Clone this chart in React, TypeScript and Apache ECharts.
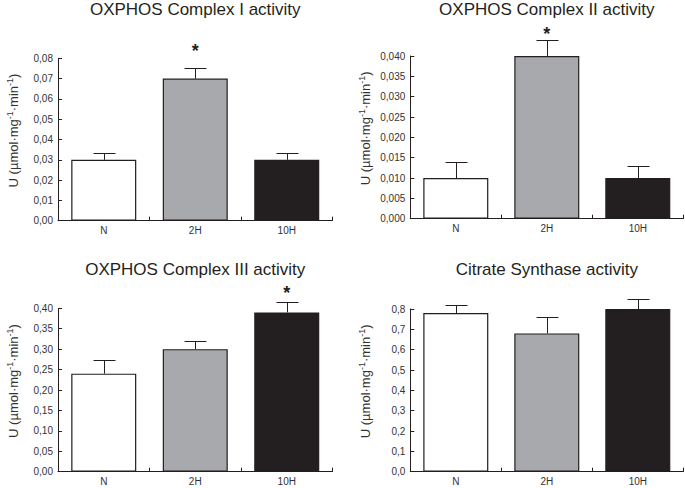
import React, { useEffect, useRef } from "react";
import * as echarts from "echarts";

const categories = ["N", "2H", "10H"];

const titles = [
  "OXPHOS Complex I activity",
  "OXPHOS Complex II activity",
  "OXPHOS Complex III activity",
  "Citrate Synthase activity",
];

const complexIValues = [0.03, 0.07, 0.03];
const complexIErrors = [0.0032, 0.0052, 0.0033];
const complexIStars = [null, 0.0856, null];

const complexIIValues = [0.01, 0.04, 0.01];
const complexIIErrors = [0.0039, 0.0039, 0.003];
const complexIIStars = [null, 0.0464, null];

const complexIIIValues = [0.24, 0.3, 0.39];
const complexIIIErrors = [0.033, 0.02, 0.025];
const complexIIIStars = [null, null, 0.448];

const citrateValues = [0.78, 0.68, 0.8];
const citrateErrors = [0.038, 0.082, 0.051];
const citrateStars = [null, null, null];

const yMax = [0.08, 0.04, 0.4, 0.8];
const yInterval = [0.01, 0.005, 0.05, 0.1];
const yDecimals = [2, 3, 2, 1];

const barColors = ["#ffffff", "#a7a9ac", "#231f20"];

const INK = "#231f20";

const grids = [
  { left: 58, top: 58.3, width: 274.5, height: 162.4 },
  { left: 410.3, top: 56, width: 273, height: 162.7 },
  { left: 58, top: 308.3, width: 274.5, height: 163.4 },
  { left: 410.3, top: 309, width: 273, height: 162.7 },
];

const titleTops = [1, 1, 261, 261];

export default function App() {
  const ref = useRef<HTMLDivElement>(null);

  useEffect(() => {
    if (!ref.current) return;
    const chart = echarts.init(ref.current, undefined, { renderer: "svg" });

    const panels = [
      { values: complexIValues, errors: complexIErrors, stars: complexIStars },
      { values: complexIIValues, errors: complexIIErrors, stars: complexIIStars },
      { values: complexIIIValues, errors: complexIIIErrors, stars: complexIIIStars },
      { values: citrateValues, errors: citrateErrors, stars: citrateStars },
    ];

    const font = "Liberation Sans, Arial, Helvetica, sans-serif";

    const series: any[] = [];
    panels.forEach((p, k) => {
      series.push({
        type: "bar",
        xAxisIndex: k,
        yAxisIndex: k,
        barWidth: 65,
        data: p.values.map((v, i) => ({
          value: v,
          itemStyle: { color: barColors[i], borderColor: INK, borderWidth: 1.2 },
        })),
        silent: true,
      });
      series.push({
        type: "custom",
        xAxisIndex: k,
        yAxisIndex: k,
        silent: true,
        encode: { x: 0, y: 1 },
        data: p.values.map((v, i) => [i, v, p.errors[i]]),
        renderItem: (params: any, api: any) => {
          const i = api.value(0);
          const v = api.value(1);
          const e = api.value(2);
          const base = api.coord([i, v]);
          const top = api.coord([i, v + e]);
          const x = Math.round(base[0]) + 0.5;
          const yt = Math.round(top[1]) + 0.5;
          const half = 11;
          const st = { stroke: INK, lineWidth: 1 };
          return {
            type: "group",
            children: [
              { type: "line", shape: { x1: x, y1: base[1], x2: x, y2: yt }, style: st },
              { type: "line", shape: { x1: x - half, y1: yt, x2: x + half, y2: yt }, style: st },
            ],
          };
        },
        z: 3,
      });
      const starData = p.stars
        .map((s, i) => (s == null ? null : [i, s]))
        .filter((d) => d != null);
      if (starData.length) {
        series.push({
          type: "custom",
          xAxisIndex: k,
          yAxisIndex: k,
          silent: true,
          encode: { x: 0, y: 1 },
          data: starData,
          clip: false,
          renderItem: (params: any, api: any) => {
            const pt = api.coord([api.value(0), api.value(1)]);
            return {
              type: "text",
              x: pt[0],
              y: pt[1] + 4,
              style: {
                text: "*",
                fill: INK,
                font: `bold 18px ${font}`,
                align: "center",
                verticalAlign: "middle",
              },
            };
          },
          z: 4,
        });
      }
    });

    const option: any = {
      animation: false,
      backgroundColor: "#ffffff",
      title: titles.map((t, k) => ({
        text: t,
        left: grids[k].left + grids[k].width / 2,
        top: titleTops[k],
        padding: 0,
        textAlign: "center",
        textStyle: { fontSize: 17, fontWeight: "normal", color: INK, fontFamily: font },
      })),
      grid: grids.map((g) => ({ ...g, containLabel: false })),
      xAxis: grids.map((_, k) => ({
        type: "category",
        gridIndex: k,
        data: categories,
        boundaryGap: true,
        axisLine: { show: true, lineStyle: { color: INK, width: 1 } },
        axisTick: { show: true, inside: true, length: 4, interval: 0, lineStyle: { color: INK } },
        axisLabel: { fontSize: 10, color: "#333", margin: 5, fontFamily: font },
        splitLine: { show: false },
      })),
      yAxis: grids.map((_, k) => ({
        type: "value",
        gridIndex: k,
        min: 0,
        max: yMax[k],
        interval: yInterval[k],
        name: "U (µmol·mg{sup|-1}·min{sup|-1})",
        nameLocation: "middle",
        nameGap: 37,
        nameRotate: 90,
        nameTextStyle: {
          fontSize: 13,
          color: "#333",
          fontFamily: font,
          padding: [0, 0, 0, 18],
          lineHeight: 16,
          rich: {
            sup: { fontSize: 9, verticalAlign: "top", lineHeight: 16, color: "#333", fontFamily: font },
          },
        },
        axisLine: { show: true, lineStyle: { color: INK, width: 1 } },
        axisTick: { show: true, inside: true, length: 4, lineStyle: { color: INK } },
        axisLabel: {
          fontSize: 10,
          color: "#333",
          margin: 5,
          fontFamily: font,
          formatter: (v: number) => v.toFixed(yDecimals[k]).replace(".", ","),
        },
        splitLine: { show: false },
      })),
      series,
    };

    chart.setOption(option);
    return () => chart.dispose();
  }, []);

  return (
    <div
      ref={ref}
      style={{ position: "fixed", left: 0, top: 0, width: 685, height: 488, background: "#fff" }}
    />
  );
}
